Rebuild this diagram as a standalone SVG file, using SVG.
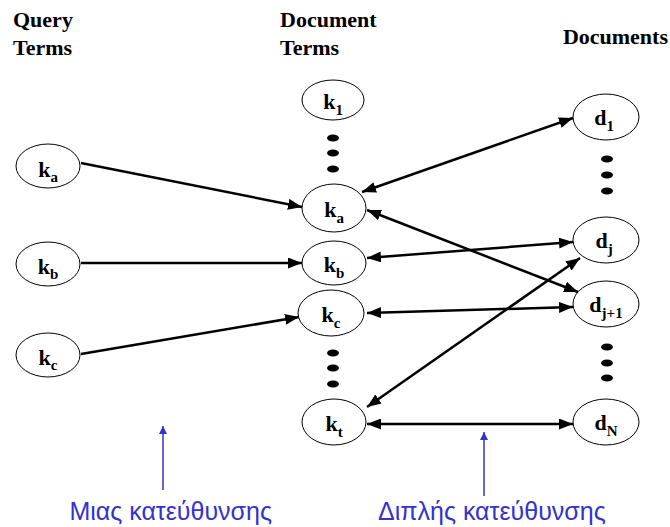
<svg xmlns="http://www.w3.org/2000/svg" width="670" height="527" viewBox="0 0 670 527">
<style>
.hd{font-family:"Liberation Serif","Times New Roman",serif;font-weight:bold;font-size:22px;fill:#000}
.nd ellipse{fill:#fff;stroke:#000;stroke-width:1}
.lb{font-family:"Liberation Serif","Times New Roman",serif;font-weight:bold;font-size:22px;fill:#000;text-anchor:middle}
.sb{font-size:15px}
.dot{fill:#000}
.cn line{stroke:#000;stroke-width:2.5}
.bl line{stroke:#3333CC;stroke-width:1.5}
.gt{font-family:"Liberation Sans",Arial,sans-serif;font-size:25px;fill:#3333CC}
</style>
<defs>
<marker id="ah" markerUnits="userSpaceOnUse" markerWidth="14" markerHeight="11" refX="14" refY="5.5" orient="auto-start-reverse" viewBox="0 0 14 11">
<path d="M0,0 L14,5.5 L0,11 z" fill="#000"/>
</marker>
<marker id="bh" markerUnits="userSpaceOnUse" markerWidth="8" markerHeight="8" refX="8" refY="4" orient="auto" viewBox="0 0 8 8">
<path d="M0,0 L8,4 L0,8 z" fill="#3333CC"/>
</marker>
</defs>
<rect width="670" height="527" fill="#fff"/>
<g id="headers">
<text class="hd" x="13" y="27">Query</text>
<text class="hd" x="13" y="55">Terms</text>
<text class="hd" x="280" y="27">Document</text>
<text class="hd" x="280" y="55">Terms</text>
<text class="hd" x="668" y="44" text-anchor="end">Documents</text>
</g>
<g id="connectors" class="cn">
<line x1="81" y1="163" x2="302" y2="207" marker-end="url(#ah)"/>
<line x1="81" y1="263" x2="302" y2="263" marker-end="url(#ah)"/>
<line x1="81" y1="354" x2="299" y2="317" marker-end="url(#ah)"/>
<line x1="362" y1="192" x2="573" y2="118" marker-start="url(#ah)" marker-end="url(#ah)"/>
<line x1="367" y1="210" x2="578" y2="292" marker-start="url(#ah)" marker-end="url(#ah)"/>
<line x1="367" y1="258" x2="573" y2="242" marker-start="url(#ah)" marker-end="url(#ah)"/>
<line x1="367" y1="313" x2="573" y2="307" marker-start="url(#ah)" marker-end="url(#ah)"/>
<line x1="367" y1="407" x2="580" y2="258" marker-start="url(#ah)" marker-end="url(#ah)"/>
<line x1="367" y1="424" x2="573" y2="424" marker-start="url(#ah)" marker-end="url(#ah)"/>
</g>
<g id="q_ka" class="nd"><ellipse cx="48" cy="166" rx="32" ry="22"/><text class="lb" x="48" y="177">k<tspan class="sb" dy="5">a</tspan></text></g>
<g id="q_kb" class="nd"><ellipse cx="48" cy="264" rx="32" ry="22"/><text class="lb" x="48" y="274">k<tspan class="sb" dy="5">b</tspan></text></g>
<g id="q_kc" class="nd"><ellipse cx="48" cy="355" rx="32" ry="22"/><text class="lb" x="48" y="365">k<tspan class="sb" dy="5">c</tspan></text></g>
<g id="t_k1" class="nd"><ellipse cx="333" cy="100" rx="31" ry="20"/><text class="lb" x="333" y="109">k<tspan class="sb" dy="6">1</tspan></text></g>
<g id="t_ka" class="nd"><ellipse cx="334" cy="208" rx="32" ry="24"/><text class="lb" x="334" y="217">k<tspan class="sb" dy="6">a</tspan></text></g>
<g id="t_kb" class="nd"><ellipse cx="334" cy="263" rx="32" ry="22"/><text class="lb" x="334" y="272">k<tspan class="sb" dy="6">b</tspan></text></g>
<g id="t_kc" class="nd"><ellipse cx="331" cy="313" rx="33" ry="23"/><text class="lb" x="331" y="322">k<tspan class="sb" dy="6">c</tspan></text></g>
<g id="t_kt" class="nd"><ellipse cx="334" cy="422" rx="32" ry="23"/><text class="lb" x="334" y="431">k<tspan class="sb" dy="6">t</tspan></text></g>
<g id="d_1" class="nd"><ellipse cx="606" cy="117" rx="33" ry="23"/><text class="lb" x="604" y="125">d<tspan class="sb" dy="6">1</tspan></text></g>
<g id="d_j" class="nd"><ellipse cx="606" cy="240" rx="33" ry="23"/><text class="lb" x="604" y="248">d<tspan class="sb" dy="6">j</tspan></text></g>
<g id="d_j1" class="nd"><ellipse cx="606" cy="304" rx="33" ry="23"/><text class="lb" x="606" y="312">d<tspan class="sb" dy="6">j+1</tspan></text></g>
<g id="d_N" class="nd"><ellipse cx="606" cy="422" rx="33" ry="23"/><text class="lb" x="606" y="430">d<tspan class="sb" dy="6">N</tspan></text></g>
<g id="ellipsis" class="dot">
<ellipse cx="333" cy="138" rx="6" ry="3.5"/><ellipse cx="333" cy="153" rx="6" ry="3.5"/><ellipse cx="333" cy="169" rx="6" ry="3.5"/>
<ellipse cx="333" cy="353" rx="6" ry="3.5"/><ellipse cx="333" cy="368" rx="6" ry="3.5"/><ellipse cx="333" cy="384" rx="6" ry="3.5"/>
<ellipse cx="607" cy="159" rx="6" ry="3.5"/><ellipse cx="607" cy="175" rx="6" ry="3.5"/><ellipse cx="607" cy="191" rx="6" ry="3.5"/>
<ellipse cx="607" cy="347" rx="6" ry="3.5"/><ellipse cx="607" cy="363" rx="6" ry="3.5"/><ellipse cx="607" cy="378" rx="6" ry="3.5"/>
</g>
<g id="annotations" class="bl">
<line x1="163" y1="490" x2="163" y2="426" marker-end="url(#bh)"/>
<line x1="484" y1="496" x2="484" y2="432" marker-end="url(#bh)"/>
<text class="gt" x="272" y="520" text-anchor="end">Μιας κατεύθυνσης</text>
<text class="gt" x="378" y="520">Διπλής κατεύθυνσης</text>
</g>
</svg>
